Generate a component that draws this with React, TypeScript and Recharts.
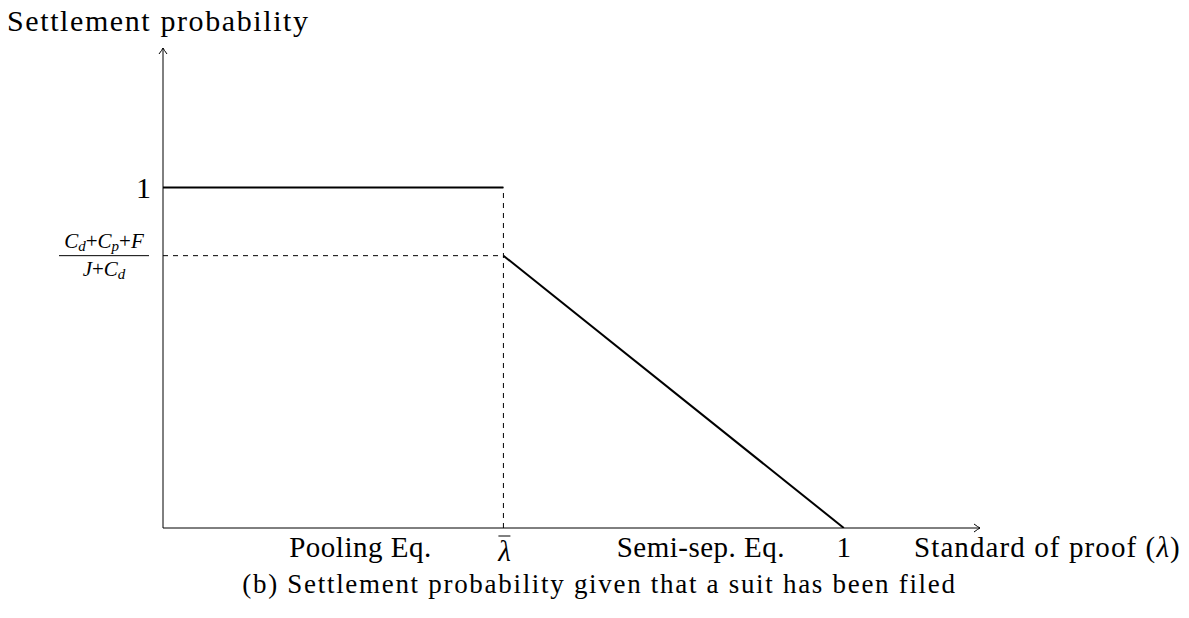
import { LineChart, Line, XAxis, YAxis, ReferenceDot } from "recharts"

// standard of proof (lambda) and settlement probability
const lambdaBar = 0.5
const poolingX = [0, lambdaBar]
const poolingY = [1, 1]
const semiSepX = [lambdaBar, 1]
const semiSepY = [0.8, 0]
const fractionLevel = 0.8

const xTicks = [0.29, lambdaBar, 0.79, 1]
const xTickLabels = ["Pooling Eq.", "\u03BB\u0304", "Semi-sep. Eq.", "1"]
const yTicks = [fractionLevel, 1]

const xMax = 1.2
const yMax = 1.41

const toPoints = (xs: number[], ys: number[]) => xs.map((x, i) => ({ x, y: ys[i] }))

const pooling = toPoints(poolingX, poolingY)
const semiSep = toPoints(semiSepX, semiSepY)
const vDash = toPoints([lambdaBar, lambdaBar], [0, 1])
const hDash = toPoints([0, lambdaBar], [fractionLevel, fractionLevel])

const FONT = "'Liberation Serif', 'DejaVu Serif', serif"

function XTick(props: any) {
  const { x, y, payload } = props
  const idx = xTicks.indexOf(payload.value)
  const label = xTickLabels[idx]
  if (label === "\u03BB\u0304") {
    return (
      <g>
        <line x1={x - 5} x2={x + 7} y1={y + 8} y2={y + 8} stroke="#000" strokeWidth={1} />
        <text x={x + 1} y={y + 33} textAnchor="middle" fontFamily={FONT} fontSize={29} fontStyle="italic" fill="#000">
          {"\u03BB"}
        </text>
      </g>
    )
  }
  return (
    <text
      x={x}
      y={y + 29}
      textAnchor="middle"
      fontFamily={FONT}
      fontSize={29}
      letterSpacing={label === "1" ? 0 : 0.5}
      fill="#000"
    >
      {label}
    </text>
  )
}

function YTick(props: any) {
  const { x, y, payload } = props
  if (payload.value === 1) {
    return (
      <text x={x - 12} y={y + 10} textAnchor="end" fontFamily={FONT} fontSize={30} fill="#000">
        1
      </text>
    )
  }
  const right = x - 14
  const left = right - 90
  const mid = (left + right) / 2
  return (
    <g fontFamily={FONT} fontSize={21} fill="#000">
      <text x={mid} y={y - 8} textAnchor="middle">
        <tspan fontStyle="italic">C</tspan>
        <tspan fontStyle="italic" fontSize={15} dy={3}>d</tspan>
        <tspan dy={-3}>+</tspan>
        <tspan fontStyle="italic">C</tspan>
        <tspan fontStyle="italic" fontSize={15} dy={3}>p</tspan>
        <tspan dy={-3}>+</tspan>
        <tspan fontStyle="italic">F</tspan>
      </text>
      <line x1={left} x2={right} y1={y} y2={y} stroke="#000" strokeWidth={1} />
      <text x={mid} y={y + 20} textAnchor="middle">
        <tspan fontStyle="italic">J</tspan>
        <tspan>+</tspan>
        <tspan fontStyle="italic">C</tspan>
        <tspan fontStyle="italic" fontSize={15} dy={3}>d</tspan>
      </text>
    </g>
  )
}

function ArrowRight(props: any) {
  const { cx, cy } = props
  return (
    <path
      d={`M${cx - 6},${cy - 4} Q${cx - 2},${cy - 1} ${cx},${cy} Q${cx - 2},${cy + 1} ${cx - 6},${cy + 4}`}
      stroke="#000"
      strokeWidth={1}
      fill="none"
    />
  )
}

function ArrowUp(props: any) {
  const { cx, cy } = props
  return (
    <path
      d={`M${cx - 4},${cy + 6} Q${cx - 1},${cy + 2} ${cx},${cy} Q${cx + 1},${cy + 2} ${cx + 4},${cy + 6}`}
      stroke="#000"
      strokeWidth={1}
      fill="none"
    />
  )
}

export default function App() {
  return (
    <div style={{ position: "absolute", left: 0, top: 0, width: 1189, height: 618, background: "#fff" }}>
      <div
        style={{
          position: "absolute",
          left: 7,
          top: 6,
          fontFamily: FONT,
          fontSize: 30,
          lineHeight: "30px",
          letterSpacing: 1.6,
          color: "#000",
          whiteSpace: "nowrap",
        }}
      >
        Settlement probability
      </div>
      <div
        style={{
          position: "absolute",
          left: 914,
          top: 533,
          fontFamily: FONT,
          fontSize: 29,
          lineHeight: "29px",
          letterSpacing: 1.1,
          color: "#000",
          whiteSpace: "nowrap",
        }}
      >
        Standard of proof (<i>{"\u03BB"}</i>)
      </div>
      <div
        style={{
          position: "absolute",
          left: 0,
          width: 1199,
          top: 571,
          textAlign: "center",
          fontFamily: FONT,
          fontSize: 27,
          lineHeight: "27px",
          letterSpacing: 1.7,
          color: "#000",
          whiteSpace: "nowrap",
        }}
      >
        (b) Settlement probability given that a suit has been filed
      </div>
      <LineChart width={1189} height={618} margin={{ top: 48, right: 209, bottom: 50, left: 63 }}>
        <XAxis
          dataKey="x"
          type="number"
          domain={[0, xMax]}
          allowDataOverflow
          ticks={xTicks}
          tick={<XTick />}
          tickLine={false}
          tickSize={0}
          tickMargin={0}
          height={40}
          axisLine={{ stroke: "#000", strokeWidth: 1 }}
          interval={0}
        />
        <YAxis
          type="number"
          domain={[0, yMax]}
          allowDataOverflow
          ticks={yTicks}
          tick={<YTick />}
          tickLine={false}
          tickSize={0}
          tickMargin={0}
          width={100}
          axisLine={{ stroke: "#000", strokeWidth: 1 }}
          interval={0}
        />
        <Line data={hDash} dataKey="y" stroke="#000" strokeWidth={1} strokeDasharray="5 5" dot={false} isAnimationActive={false} />
        <Line data={vDash} dataKey="y" stroke="#000" strokeWidth={1} strokeDasharray="5 5" dot={false} isAnimationActive={false} />
        <Line data={pooling} dataKey="y" stroke="#000" strokeWidth={2} dot={false} isAnimationActive={false} />
        <Line data={semiSep} dataKey="y" stroke="#000" strokeWidth={2} dot={false} isAnimationActive={false} />
        <ReferenceDot x={xMax} y={0} ifOverflow="visible" shape={<ArrowRight />} />
        <ReferenceDot x={0} y={yMax} ifOverflow="visible" shape={<ArrowUp />} />
      </LineChart>
    </div>
  )
}
